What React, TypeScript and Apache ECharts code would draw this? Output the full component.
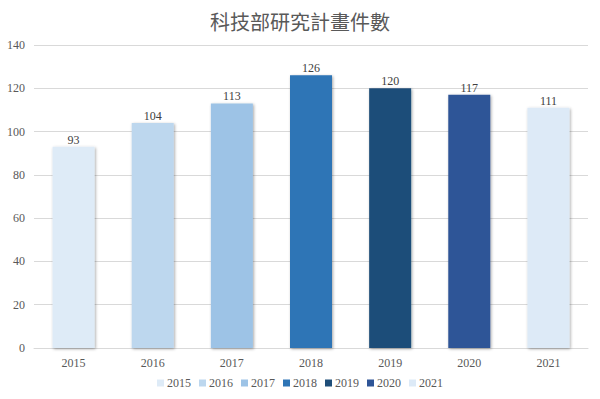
import React, { useEffect, useRef } from "react";
import * as echarts from "echarts";

const years = ["2015", "2016", "2017", "2018", "2019", "2020", "2021"];
const counts = [93, 104, 113, 126, 120, 117, 111];
const colors = ["#DEEBF7", "#BDD7EE", "#9DC3E6", "#2E75B6", "#1F4E79", "#2F5597", "#DDEAF7"];
const yTicks = { min: 0, max: 140, interval: 20 };

const FONT = "'Liberation Serif', 'DejaVu Serif', serif";

export default function App() {
  const ref = useRef<HTMLDivElement>(null);
  useEffect(() => {
    if (!ref.current) return;
    const chart = echarts.init(ref.current, null, { renderer: "svg" });
    const series = years.map((y, i) => ({
      name: y,
      type: "bar",
      stack: "all",
      barWidth: 42,
      data: counts.map((v, j) => (j === i ? v : null)),
      itemStyle: {
        color: colors[i],
        shadowBlur: 3,
        shadowColor: "rgba(0,0,0,0.35)",
        shadowOffsetX: 1,
        shadowOffsetY: 1,
      },
      label: {
        show: true,
        position: "top",
        distance: 1,
        color: "#404040",
        fontFamily: FONT,
        fontSize: 12,
        formatter: (p: any) => (p.value == null ? "" : String(p.value)),
      },
    }));
    chart.setOption({
      animation: false,
      title: {
        text: "科技部研究計畫件數",
        left: "center",
        top: 6,
        textStyle: { fontFamily: "'Noto Sans CJK TC', sans-serif", fontSize: 20, fontWeight: "normal", color: "#595959" },
      },
      grid: { left: 34, right: 12, top: 45, bottom: 51, containLabel: false },
      legend: {
        bottom: 5,
        left: "center",
        itemWidth: 7,
        itemHeight: 7,
        itemGap: 8,
        icon: "rect",
        textStyle: { fontFamily: FONT, fontSize: 12, color: "#595959", padding: [0, 0, 0, -2] },
        data: years,
      },
      xAxis: {
        type: "category",
        data: years,
        axisTick: { show: false },
        axisLine: { lineStyle: { color: "#D9D9D9" } },
        axisLabel: { fontFamily: FONT, fontSize: 12, color: "#595959", margin: 9 },
      },
      yAxis: {
        type: "value",
        ...yTicks,
        axisLine: { show: false },
        axisTick: { show: false },
        splitLine: { lineStyle: { color: "#D9D9D9" } },
        axisLabel: { fontFamily: FONT, fontSize: 12, color: "#595959", margin: 9 },
      },
      series,
    });
    return () => chart.dispose();
  }, []);
  return <div ref={ref} style={{ width: 600, height: 399, position: "fixed", left: 0, top: 0, background: "#fff" }} />;
}
